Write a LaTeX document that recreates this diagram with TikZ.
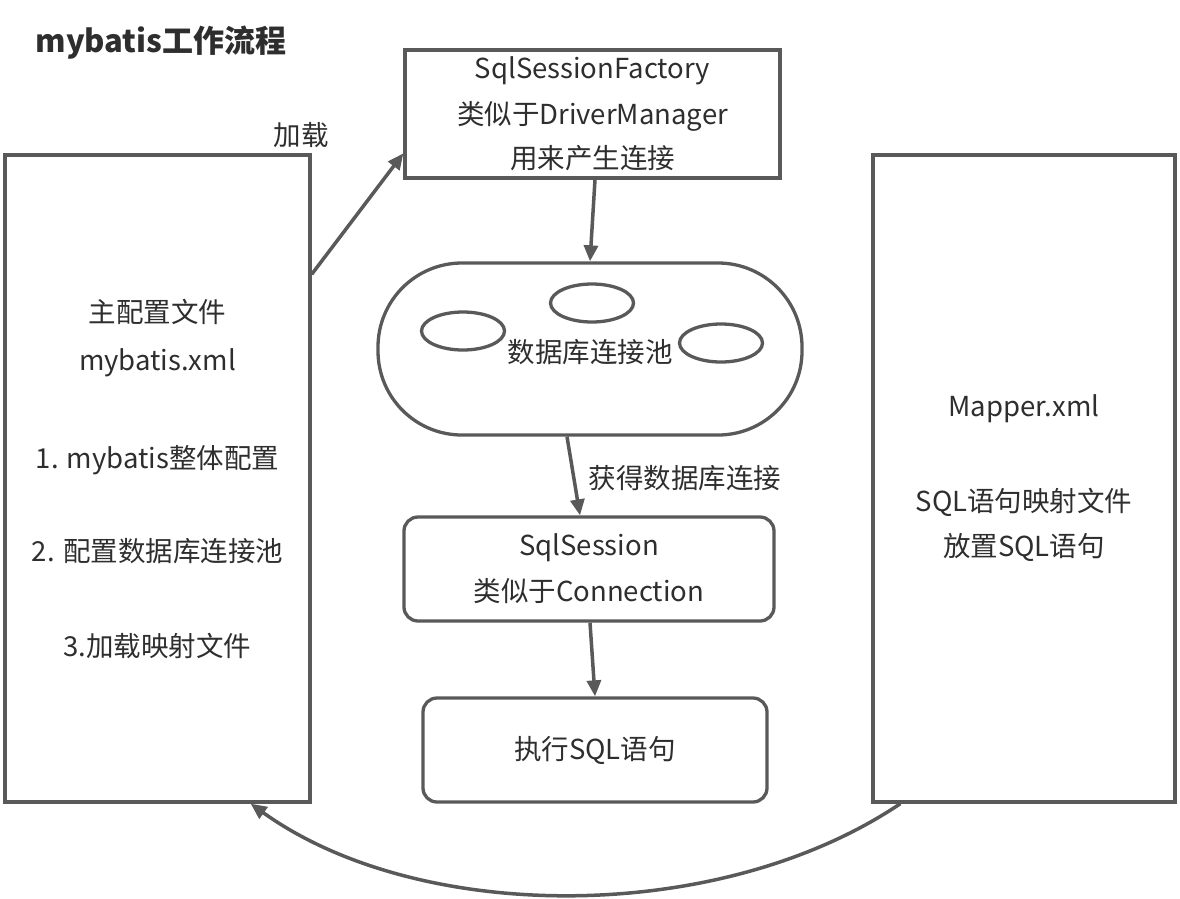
\documentclass[tikz,border=0pt]{standalone}
\usepackage{fontspec}
\setmainfont{Noto Sans CJK SC}
\usetikzlibrary{arrows.meta,shapes.geometric}
\definecolor{ln}{HTML}{595959}
\definecolor{tx}{HTML}{2E2E2E}
\begin{document}
\begin{tikzpicture}[x=1pt,y=-1pt,
 box/.style={draw=ln,line width=3.3pt,inner sep=0pt,align=center,text=tx,font=\fontsize{27.5pt}{46pt}\selectfont},
 oval/.style={draw=ln,line width=3.3pt,ellipse,inner sep=0pt,minimum width=83pt,minimum height=38pt},
 arr/.style={draw=ln,line width=3.5pt,-{Triangle[length=16pt,width=14pt]}},
 lbl/.style={text=tx,font=\fontsize{27.5pt}{30pt}\selectfont,inner sep=0pt}]
\useasboundingbox (0,0) rectangle (1180,898);

\node[text=tx,font=\fontsize{31pt}{34pt}\selectfont\bfseries,inner sep=0pt] (title) at (161,43) {mybatis工作流程};

\node[box,minimum width=305pt,minimum height=647pt] (cfg) at (157.5,478.5)
 {主配置文件\\[2pt]mybatis.xml\\[52pt]1. mybatis整体配置\\[47pt]2. 配置数据库连接池\\[49pt]3.加载映射文件};

\node[box,minimum width=375pt,minimum height=128pt] (fac) at (592.5,114)
 {SqlSessionFactory\\[0pt]类似于DriverManager\\[-2pt]用来产生连接};

\node[box,rounded corners=84pt,minimum width=424pt,minimum height=172pt] (pool) at (590,349) {};
\node[lbl] (pooltext) at (590,352) {数据库连接池};
\node[oval] (c1) at (463,331) {};
\node[oval] (c2) at (592,303) {};
\node[oval] (c3) at (721,343) {};

\node[box,rounded corners=14pt,minimum width=370pt,minimum height=104pt] (ss) at (589,569)
 {SqlSession\\[0pt]类似于Connection};

\node[box,rounded corners=14pt,minimum width=344pt,minimum height=104pt] (ex) at (595,750)
 {执行SQL语句};

\node[box,minimum width=302pt,minimum height=647pt] (map) at (1024,478.5)
 {Mapper.xml\\[49pt]SQL语句映射文件\\[-1pt]放置SQL语句};

\node[lbl] (jz) at (301,135) {加载};
\node[lbl] (hd) at (685,478) {获得数据库连接};

\draw[arr] ([yshift=-121pt]cfg.north east) -- ([yshift=-105pt]fac.north west);
\draw[arr] ([xshift=2.5pt]fac.south) -- (pool.north);
\draw[arr] ([xshift=-23pt]pool.south) -- ([xshift=-9pt]ss.north);
\draw[arr] ([xshift=1pt]ss.south) -- (ex.north);
\draw[arr] ([xshift=29pt]map.south west) .. controls (720,925) and (420,925) .. ([xshift=-61pt]cfg.south east);
\end{tikzpicture}
\end{document}
